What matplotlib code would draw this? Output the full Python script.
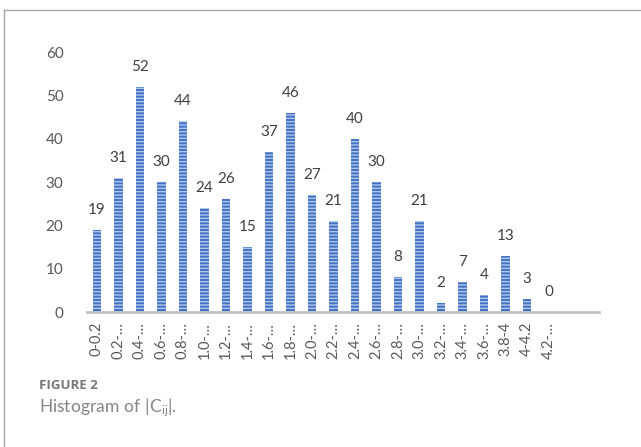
import matplotlib.pyplot as plt
from matplotlib.lines import Line2D

# bins of |Cij| and counts
categories = ["0-0.2", "0.2-…", "0.4-…", "0.6-…", "0.8-…", "1.0-…", "1.2-…",
              "1.4-…", "1.6-…", "1.8-…", "2.0-…", "2.2-…", "2.4-…", "2.6-…",
              "2.8-…", "3.0-…", "3.2-…", "3.4-…", "3.6-…", "3.8-4", "4-4.2", "4.2-…"]
counts = [19, 31, 52, 30, 44, 24, 26, 15, 37, 46, 27, 21, 40, 30, 8, 21, 2, 7, 4, 13, 3, 0]
yticks = [0, 10, 20, 30, 40, 50, 60]

plt.rcParams['font.family'] = ['Lato', 'DejaVu Sans']
plt.rcParams['hatch.linewidth'] = 1.0
plt.rcParams['mathtext.fontset'] = 'custom'
plt.rcParams['mathtext.rm'] = 'Open Sans'
plt.rcParams['mathtext.it'] = 'Open Sans'

W, H = 641, 447
fig = plt.figure(figsize=(W / 100, H / 100), dpi=100)
ax = fig.add_axes([87 / W, (H - 312) / H, 512 / W, 260 / H])

x = list(range(len(categories)))
ax.bar(x, counts, width=0.38, color='#4472C4', edgecolor='#B0C6EE',
       linewidth=0, hatch='-----', zorder=2)

for xi, c in zip(x, counts):
    ax.annotate(str(c), (xi, c), xytext=(0, 14.5), textcoords='offset points',
                ha='center', va='center', fontsize=11, color='#404040')

ax.set_xlim(-0.465, 23.35)
ax.set_ylim(0, 60)
ax.set_yticks(yticks)
ax.set_xticks(x)
ax.set_xticklabels(categories, rotation=90, fontsize=10.5, color='#595959')
ax.tick_params(axis='y', length=0, pad=17, labelsize=11, labelcolor='#595959')
ax.tick_params(axis='x', length=0, pad=7)

for s in ['top', 'right', 'left']:
    ax.spines[s].set_visible(False)
ax.spines['bottom'].set_color('#BFBFBF')
ax.spines['bottom'].set_linewidth(1.9)
ax.spines['bottom'].set_zorder(3)

# frame lines of the figure panel
fig.add_artist(Line2D([4 / W, 1], [1 - 9.5 / H, 1 - 9.5 / H], color='#A6A6A6', lw=1.0))
fig.add_artist(Line2D([4 / W, 4 / W], [0, 1 - 9.5 / H], color='#A6A6A6', lw=1.0))

# caption
fig.text(39 / W, 1 - 385.5 / H, "FIGURE 2", fontsize=9.5, fontweight='bold',
         color='#777777', va='center', family=['Open Sans', 'DejaVu Sans'])
fig.text(39 / W, 1 - 408 / H, r"$\mathregular{Histogram\ of\ |C_{ij}|.}$", fontsize=12.5,
         color='#858585', va='center')

fig.savefig('out.png', dpi=100)
